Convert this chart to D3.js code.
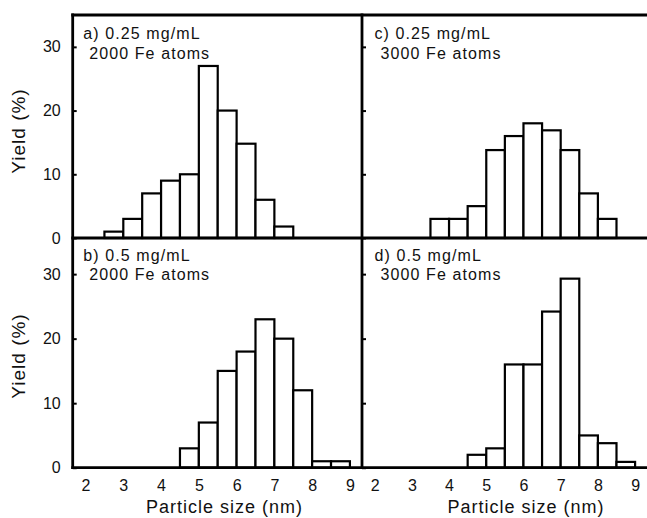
<!DOCTYPE html>
<html>
<head>
<meta charset="utf-8">
<script src="https://cdn.jsdelivr.net/npm/d3@7"></script>
<style>
  body { margin: 0; background: #fff; }
  text { font-family: "Liberation Sans", Arial, sans-serif; fill: #111; }
</style>
</head>
<body>
<div id="chart"></div>
<script>
const width = 647, height = 518;

// data (bin start in nm, yield in %), bins are 0.5 nm wide
const binWidth = 0.5;
const binStartA = [2.5, 3, 3.5, 4, 4.5, 5, 5.5, 6, 6.5, 7];
const yieldA = [1, 3, 7, 9, 10, 27, 20, 14.8, 6, 1.8];
const binStartB = [4.5, 5, 5.5, 6, 6.5, 7, 7.5, 8, 8.5];
const yieldB = [3, 7, 15, 18, 23, 20, 12, 1, 1];
const binStartC = [3.5, 4, 4.5, 5, 5.5, 6, 6.5, 7, 7.5, 8];
const yieldC = [3, 3, 5, 13.8, 16, 18, 16.9, 13.8, 7, 3];
const binStartD = [4.5, 5, 5.5, 6, 6.5, 7, 7.5, 8, 8.5];
const yieldD = [2, 3, 16, 16, 24.2, 29.3, 5, 3.8, 0.9];

const xTicks = [2, 3, 4, 5, 6, 7, 8, 9];
const yTicks = [0, 10, 20, 30];
const panelTitles = ['a) 0.25 mg/mL', 'c) 0.25 mg/mL', 'b) 0.5 mg/mL', 'd) 0.5 mg/mL'];
const panelSubtitles = ['2000 Fe atoms', '3000 Fe atoms', '2000 Fe atoms', '3000 Fe atoms'];
const xTitle = 'Particle size (nm)';
const yTitle = 'Yield (%)';

// layout: panel edges
const colEdges = [72.7, 362, 647];
const rowEdges = [15, 238, 467.7];
const yMax = [35, 35.6];

const svg = d3.select('#chart').append('svg')
  .attr('width', width)
  .attr('height', height);

// scales
const xScales = [0, 1].map(c => d3.scaleLinear()
  .domain([1.66, 9.32])
  .range([colEdges[c], colEdges[c + 1]]));
const yScales = [0, 1].map(r => d3.scaleLinear()
  .domain([0, yMax[r]])
  .range([rowEdges[r + 1], rowEdges[r]]));

const panels = [
  { row: 0, col: 0, start: binStartA, values: yieldA },
  { row: 0, col: 1, start: binStartC, values: yieldC },
  { row: 1, col: 0, start: binStartB, values: yieldB },
  { row: 1, col: 1, start: binStartD, values: yieldD }
];

// bars
panels.forEach((p, i) => {
  const xs = xScales[p.col], ys = yScales[p.row];
  const data = p.start.map((s, j) => ({ s: s, v: p.values[j] }));
  svg.append('g').attr('class', 'bars')
    .selectAll('rect')
    .data(data)
    .enter().append('rect')
      .attr('x', d => xs(d.s))
      .attr('y', d => ys(d.v))
      .attr('width', d => xs(d.s + binWidth) - xs(d.s))
      .attr('height', d => ys(0) - ys(d.v))
      .attr('fill', '#fff')
      .attr('stroke', '#000')
      .attr('stroke-width', 2.2);

  // panel labels
  const tx = colEdges[p.col] + (p.col === 0 ? 10.5 : 12.5);
  const ty = rowEdges[p.row];
  svg.append('text')
    .attr('x', tx)
    .attr('y', ty + (p.row === 0 ? 24 : 23))
    .attr('font-size', 16)
    .attr('letter-spacing', 1.1)
    .text(panelTitles[i]);
  svg.append('text')
    .attr('x', tx + 6)
    .attr('y', ty + (p.row === 0 ? 44 : 42))
    .attr('font-size', 16)
    .attr('letter-spacing', 1.1)
    .text(panelSubtitles[i]);
});

// y axes: ticks on both panel left edges, labels only on the outer one
[0, 1].forEach(r => {
  [0, 1].forEach(c => {
    const ax = svg.append('g')
      .attr('transform', `translate(${colEdges[c]},0)`)
      .call(d3.axisLeft(yScales[r])
        .tickValues(yTicks)
        .tickSizeInner(-4)
        .tickSizeOuter(0)
        .tickPadding(12)
        .tickFormat(c === 0 ? d3.format('d') : () => ''));
    ax.select('.domain').remove();
    ax.selectAll('line').attr('stroke', '#000').attr('stroke-width', 2);
    ax.selectAll('text')
      .attr('font-size', 16)
      .attr('font-family', '"Liberation Sans", Arial, sans-serif')
      .attr('fill', '#111');
  });
});

// x axes: labels only on the bottom row
[0, 1].forEach(c => {
  const ax = svg.append('g')
    .attr('transform', `translate(0,${rowEdges[2]})`)
    .call(d3.axisBottom(xScales[c])
      .tickValues(xTicks)
      .tickSize(0)
      .tickPadding(12)
      .tickFormat(d3.format('d')));
  ax.select('.domain').remove();
  ax.selectAll('text')
    .attr('font-size', 16)
    .attr('font-family', '"Liberation Sans", Arial, sans-serif')
    .attr('fill', '#111');
});

// frame lines
const frame = svg.append('g').attr('stroke', '#000').attr('stroke-width', 2.8);
rowEdges.forEach(y => {
  frame.append('line')
    .attr('x1', colEdges[0] - 1.4).attr('x2', colEdges[2])
    .attr('y1', y).attr('y2', y);
});
colEdges.slice(0, 2).forEach(x => {
  frame.append('line')
    .attr('x1', x).attr('x2', x)
    .attr('y1', rowEdges[0] - 1.4).attr('y2', rowEdges[2] + 1.4);
});

// axis titles
[0, 1].forEach(r => {
  const cy = r === 0 ? 131 : 356;
  svg.append('text')
    .attr('transform', `translate(25,${cy}) rotate(-90)`)
    .attr('text-anchor', 'middle')
    .attr('font-size', 19)
    .attr('letter-spacing', 1)
    .text(yTitle);
});
[224.5, 526].forEach(cx => {
  svg.append('text')
    .attr('x', cx)
    .attr('y', 513)
    .attr('text-anchor', 'middle')
    .attr('font-size', 18)
    .attr('letter-spacing', 1)
    .text(xTitle);
});
</script>
</body>
</html>
